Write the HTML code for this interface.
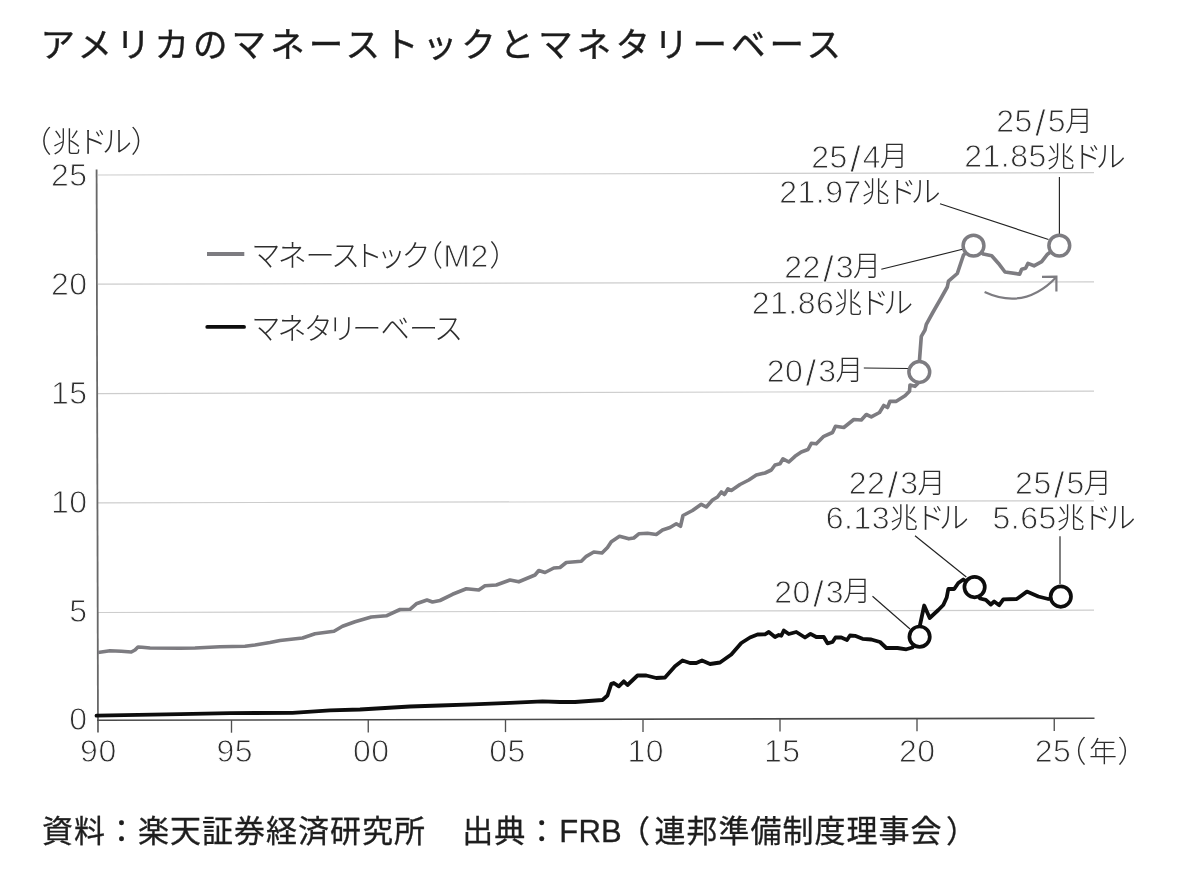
<!DOCTYPE html>
<html lang="ja">
<head>
<meta charset="utf-8">
<title>アメリカのマネーストックとマネタリーベース</title>
<style>
html,body{margin:0;padding:0;background:#fff;}
body{width:1200px;height:871px;overflow:hidden;font-family:"Liberation Sans", "Noto Sans CJK JP", sans-serif;}
svg{display:block;}
text{font-family:"Liberation Sans", "Noto Sans CJK JP", sans-serif;fill:#2e2e2e;}
.title{font-size:34.5px;font-weight:400;letter-spacing:4.05px;fill:#1c1c1c;stroke:#1c1c1c;stroke-width:0.4px;}
.d{font-size:32px;font-weight:300;letter-spacing:0.5px;stroke:#fff;stroke-width:0.9px;}
.sl{font-size:37px;letter-spacing:0;}
.k{font-size:28px;font-weight:300;letter-spacing:1.2px;stroke:none;}
.kn{font-size:30px;font-weight:300;letter-spacing:-0.6px;stroke:none;font-feature-settings:"palt";}
.foot{font-size:31px;font-weight:400;letter-spacing:1px;fill:#1e1e1e;stroke:#1e1e1e;stroke-width:0.3px;}
.fl{letter-spacing:0.3px;}
</style>
</head>
<body>
<svg width="1200" height="871" viewBox="0 0 1200 871" role="img" aria-label="アメリカのマネーストックとマネタリーベース">
<rect width="1200" height="871" fill="#fff"/>
<g stroke="#cdcdcd" stroke-width="1.2" fill="none">
<line x1="98" y1="175.0" x2="1094" y2="172.6"/>
<line x1="98" y1="284.2" x2="1094" y2="281.8"/>
<line x1="98" y1="393.6" x2="1094" y2="391.2"/>
<line x1="98" y1="502.8" x2="1094" y2="500.8"/>
<line x1="98" y1="612.5" x2="1094" y2="610.1"/>
</g>
<g fill="none">
<line x1="96.6" y1="169.5" x2="98" y2="732.5" stroke="#686868" stroke-width="1.8"/>
<line x1="97" y1="720.3" x2="1094.5" y2="718.2" stroke="#4a4a4a" stroke-width="1.6"/>
<line x1="231.5" y1="720.0" x2="231.5" y2="732.7" stroke="#505050" stroke-width="1.35"/>
<line x1="368.25" y1="719.7" x2="368.25" y2="732.4" stroke="#505050" stroke-width="1.35"/>
<line x1="505.5" y1="719.4" x2="505.5" y2="732.1" stroke="#505050" stroke-width="1.35"/>
<line x1="643" y1="719.2" x2="643" y2="731.9" stroke="#505050" stroke-width="1.35"/>
<line x1="780" y1="718.9" x2="780" y2="731.6" stroke="#505050" stroke-width="1.35"/>
<line x1="917" y1="718.6" x2="917" y2="731.3" stroke="#505050" stroke-width="1.35"/>
<line x1="1054.25" y1="718.3" x2="1054.25" y2="731.0" stroke="#505050" stroke-width="1.35"/>
</g>
<text class="title" x="40.6" y="57">アメリカのマネーストックとマネタリーベース</text>
<text class="kn" x="35.7" y="152">（<tspan class="k" dx="2.3">兆</tspan><tspan dx="-0.3" style="letter-spacing:-1.6px">ドル</tspan><tspan dx="2">）</tspan></text>
<text class="d" text-anchor="end" x="87.6" y="186.0">25</text>
<text class="d" text-anchor="end" x="87.6" y="295.3">20</text>
<text class="d" text-anchor="end" x="87.6" y="404.0">15</text>
<text class="d" text-anchor="end" x="87.6" y="512.5">10</text>
<text class="d" text-anchor="end" x="87.6" y="621.5">5</text>
<text class="d" text-anchor="end" x="87.6" y="730.0">0</text>
<text class="d" text-anchor="middle" x="98.4" y="762">90</text>
<text class="d" text-anchor="middle" x="234.75" y="762">95</text>
<text class="d" text-anchor="middle" x="371.25" y="762">00</text>
<text class="d" text-anchor="middle" x="507.5" y="762">05</text>
<text class="d" text-anchor="middle" x="645.7" y="762">10</text>
<text class="d" text-anchor="middle" x="782.2" y="762">15</text>
<text class="d" text-anchor="middle" x="917.25" y="762">20</text>
<text class="d" text-anchor="middle" x="1053" y="762">25</text>
<text class="kn" x="1070.5" y="762">（<tspan class="k" dx="4">年</tspan><tspan dx="0.6">）</tspan></text>
<line x1="207" y1="253.9" x2="244.3" y2="253.9" stroke="#7d7c81" stroke-width="4"/>
<line x1="207.3" y1="326.9" x2="244" y2="326.9" stroke="#0d0d0d" stroke-width="3.9" stroke-linecap="round"/>
<text class="kn" style="font-size:29.2px;letter-spacing:-0.57px" x="252.8" y="266.2">マネーストック<tspan dx="-0.9">（</tspan><tspan class="d" dx="2" dy="0.6">M2</tspan><tspan dx="1.8" dy="-0.6">）</tspan></text>
<text class="kn" style="font-size:29.2px;letter-spacing:-0.95px" x="252.8" y="338.8">マネタリーベース</text>
<polyline points="98.0,652.5 110.0,650.8 121.3,651.3 131.3,652.0 135.0,650.0 138.0,647.0 142.0,647.2 150.0,648.0 180.0,648.3 195.0,648.0 220.0,646.8 245.0,646.3 255.0,645.0 270.0,642.5 280.0,640.5 302.5,638.0 315.0,633.8 334.0,631.3 342.5,626.3 355.0,621.8 371.3,617.0 386.3,615.8 400.0,609.5 410.0,609.3 416.3,603.8 427.0,600.0 432.5,602.0 440.0,600.5 452.5,594.3 466.3,588.8 478.8,590.0 485.0,585.8 496.3,585.0 510.0,580.0 518.8,581.8 535.0,575.0 538.8,570.5 545.0,572.5 553.8,568.0 560.0,567.5 566.3,562.5 581.3,561.3 586.3,556.3 593.8,552.0 602.0,553.0 607.5,547.5 611.3,541.8 619.5,536.3 628.8,538.8 633.8,538.0 638.8,533.8 647.5,533.3 656.3,534.5 662.5,530.0 670.0,527.5 676.3,523.8 680.5,526.3 683.0,515.5 692.5,510.5 701.3,504.3 706.3,507.0 712.5,500.0 717.5,497.0 721.3,492.0 724.5,494.5 728.0,488.8 731.3,490.5 740.0,484.5 748.8,480.0 756.3,475.0 765.0,473.0 771.3,470.0 775.0,465.0 780.0,463.8 783.0,458.8 788.8,462.0 795.0,456.3 801.3,452.0 808.0,449.5 811.3,443.3 816.3,443.8 823.8,436.3 832.5,432.5 835.5,426.3 843.8,427.5 853.8,419.5 861.3,420.0 866.3,414.5 871.3,416.8 879.5,412.5 883.8,405.5 887.5,407.5 890.0,401.3 896.3,401.3 905.0,395.8 909.5,391.3 910.0,385.0 915.0,386.3 917.5,383.8 919.5,372.0 919.5,360.0 921.3,336.3 925.0,330.0 926.3,324.3 932.8,312.5 940.0,300.0 947.3,287.0 948.5,281.2 957.3,273.5 963.5,255.0 973.5,245.8 983.3,254.0 991.7,255.8 998.3,263.2 1005.0,272.0 1019.6,274.2 1021.7,269.2 1025.6,268.2 1028.0,263.4 1034.0,265.8 1041.7,261.7 1047.5,254.2 1059.3,245.5" fill="none" stroke="#7d7c81" stroke-width="3.65" stroke-linejoin="round" stroke-linecap="butt"/>
<polyline points="96.5,715.7 180.0,714.2 230.0,713.1 292.5,712.8 330.0,710.3 360.0,709.5 385.0,708.0 410.0,706.5 440.0,705.5 472.5,704.3 510.0,702.8 542.5,701.3 560.0,702.0 575.0,702.0 602.5,700.0 607.5,695.5 611.3,683.8 613.8,683.0 618.8,686.3 623.8,681.3 627.5,685.0 637.5,675.5 646.3,675.5 656.3,678.0 665.0,677.5 675.0,666.3 682.5,660.5 690.0,663.0 696.3,663.0 702.0,660.5 710.0,664.0 720.0,662.5 731.3,654.5 741.3,643.0 750.0,637.5 757.5,634.5 765.0,634.3 768.8,632.0 775.0,637.0 778.8,635.0 781.3,635.8 783.8,630.5 788.8,634.0 796.3,632.0 805.0,637.5 810.5,633.8 816.3,637.0 823.8,637.0 827.5,643.3 832.5,642.0 835.5,637.5 841.3,637.5 847.0,640.0 850.0,635.5 855.0,635.8 862.5,638.8 871.3,639.5 880.0,642.0 886.3,648.0 897.5,648.0 906.3,649.3 912.5,647.5 919.5,636.5 920.0,625.0 924.2,605.5 929.7,618.0 938.3,610.0 943.3,605.0 946.7,597.5 948.3,589.0 954.2,589.0 958.3,583.0 963.3,579.5 974.5,587.0 980.0,598.5 985.8,599.8 990.8,604.5 994.2,601.5 999.2,605.2 1003.3,599.4 1016.7,599.0 1026.9,591.6 1038.3,596.5 1048.3,599.0 1060.7,596.6" fill="none" stroke="#0d0d0d" stroke-width="3.8" stroke-linejoin="round" stroke-linecap="round"/>
<path d="M984.6,292 Q1024.5,310.5 1056.2,277.2" fill="none" stroke="#7d7c81" stroke-width="2.2"/>
<path d="M1042,276.8 L1056.4,276.6 L1056.4,291.5" fill="none" stroke="#7d7c81" stroke-width="2.2" stroke-linejoin="miter"/>
<g stroke="#222" stroke-width="1.15" fill="none">
<line x1="940" y1="203.8" x2="1048.5" y2="239.5"/>
<line x1="1059.4" y1="177" x2="1059.4" y2="234.5"/>
<line x1="881.3" y1="269.3" x2="962.5" y2="249.3"/>
<line x1="863.8" y1="368" x2="908" y2="368.5"/>
<line x1="915" y1="535.8" x2="966.3" y2="577"/>
<line x1="1060" y1="536.3" x2="1060" y2="584"/>
<line x1="872.5" y1="596.3" x2="910" y2="629"/>
</g>
<circle cx="919.3" cy="372" r="10.4" fill="#fff" stroke="#7d7c81" stroke-width="3.5"/>
<circle cx="973.5" cy="245.7" r="10.4" fill="#fff" stroke="#7d7c81" stroke-width="3.5"/>
<circle cx="1059.3" cy="245.6" r="10.4" fill="#fff" stroke="#7d7c81" stroke-width="3.5"/>
<circle cx="919.6" cy="636.7" r="10.2" fill="#fff" stroke="#0d0d0d" stroke-width="3.7"/>
<circle cx="974.6" cy="587.1" r="10.2" fill="#fff" stroke="#0d0d0d" stroke-width="3.7"/>
<circle cx="1060.8" cy="596.6" r="10.2" fill="#fff" stroke="#0d0d0d" stroke-width="3.7"/>
<text class="d" style="letter-spacing:0.5px" x="811.3" y="167.5">25<tspan class="sl" dx="2.3" dy="4">/</tspan><tspan dx="2.2" dy="-4">4</tspan><tspan class="k" dx="-0.9" dy="-1.2">月</tspan></text>
<text class="d" x="779.2" y="202.5">21.97<tspan class="k" dx="0" dy="-0.8">兆</tspan><tspan class="kn" dx="-0.4" style="letter-spacing:-2.1px">ドル</tspan></text>
<text class="d" style="letter-spacing:0.5px" x="784.3" y="277.5">22<tspan class="sl" dx="2.3" dy="4">/</tspan><tspan dx="2.2" dy="-4">3</tspan><tspan class="k" dx="-0.9" dy="-1.2">月</tspan></text>
<text class="d" x="751.7" y="314">21.86<tspan class="k" dx="0" dy="-0.8">兆</tspan><tspan class="kn" dx="-0.4" style="letter-spacing:-2.1px">ドル</tspan></text>
<text class="d" style="letter-spacing:0.5px" x="996.3" y="132">25<tspan class="sl" dx="2.3" dy="4">/</tspan><tspan dx="2.2" dy="-4">5</tspan><tspan class="k" dx="-0.9" dy="-1.2">月</tspan></text>
<text class="d" x="964.2" y="167.3">21.85<tspan class="k" dx="0" dy="-0.8">兆</tspan><tspan class="kn" dx="-0.4" style="letter-spacing:-2.1px">ドル</tspan></text>
<text class="d" style="letter-spacing:0.5px" x="766.8" y="381.5">20<tspan class="sl" dx="2.3" dy="4">/</tspan><tspan dx="2.2" dy="-4">3</tspan><tspan class="k" dx="-0.9" dy="-1.2">月</tspan></text>
<text class="d" style="letter-spacing:0.5px" x="848.8" y="493.8">22<tspan class="sl" dx="2.3" dy="4">/</tspan><tspan dx="2.2" dy="-4">3</tspan><tspan class="k" dx="-0.9" dy="-1.2">月</tspan></text>
<text class="d" x="825.7" y="528.5">6.13<tspan class="k" dx="0" dy="-0.8">兆</tspan><tspan class="kn" dx="-0.4" style="letter-spacing:-2.1px">ドル</tspan></text>
<text class="d" style="letter-spacing:0.5px" x="1015.1" y="493.8">25<tspan class="sl" dx="2.3" dy="4">/</tspan><tspan dx="2.2" dy="-4">5</tspan><tspan class="k" dx="-0.9" dy="-1.2">月</tspan></text>
<text class="d" x="992.5" y="528.5">5.65<tspan class="k" dx="0" dy="-0.8">兆</tspan><tspan class="kn" dx="-0.4" style="letter-spacing:-2.1px">ドル</tspan></text>
<text class="d" style="letter-spacing:0.5px" x="774.3" y="602.5">20<tspan class="sl" dx="2.3" dy="4">/</tspan><tspan dx="2.2" dy="-4">3</tspan><tspan class="k" dx="-0.9" dy="-1.2">月</tspan></text>
<text class="foot" x="42" y="842">資料：楽天証券経済研究所　<tspan dx="4.2">出典：</tspan><tspan class="fl" dx="1">FRB</tspan><tspan dx="-3.1">（</tspan><tspan dx="3.5">連邦準備制度理事会</tspan><tspan dx="3.5">）</tspan></text>
</svg>
</body>
</html>
